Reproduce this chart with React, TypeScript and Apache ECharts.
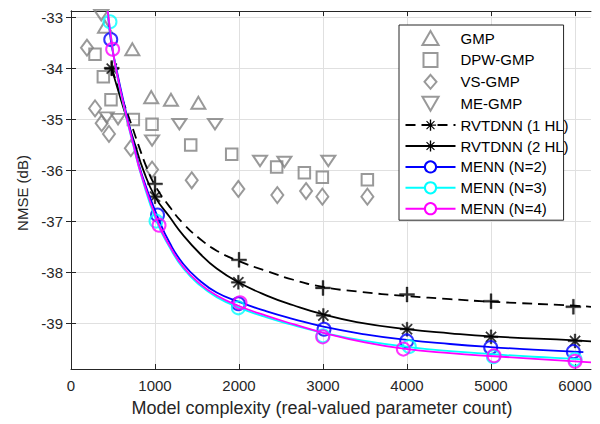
import React, { useEffect, useRef } from 'react';
import * as echarts from 'echarts';

// ---- data ----
const xTicks = [0, 1000, 2000, 3000, 4000, 5000, 6000];
const yTicks = [-39, -38, -37, -36, -35, -34, -33];

const gmp = [[405, -33.19], [730, -33.63], [955, -34.57], [1190, -34.62], [1516, -34.68]];
const dpwGmp = [[286, -33.73], [385, -34.17], [476, -34.62], [742, -35.01], [965, -35.1], [1425, -35.51], [1913, -35.69], [2448, -35.94], [2778, -36.05], [2992, -36.14], [3528, -36.19]];
const vsGmp = [[190, -33.6], [286, -34.79], [365, -35.08], [452, -35.29], [712, -35.57], [965, -35.99], [1437, -36.2], [1992, -36.37], [2456, -36.49], [2798, -36.41], [2992, -36.52], [3528, -36.52]];
const meGmp = [[360, -32.96], [425, -34.97], [560, -35.0], [965, -35.42], [1290, -35.1], [1714, -35.1], [2250, -35.82], [2540, -35.84], [3063, -35.82]];

const rvt1Curve = [[485, -34.01], [603, -34.57], [722, -35.12], [801, -35.5], [901, -35.95], [1000, -36.3], [1179, -36.73], [1337, -37.05], [1536, -37.35], [1734, -37.58], [1992, -37.78], [2330, -37.98], [2647, -38.15], [3000, -38.29], [3401, -38.38], [4000, -38.47], [4512, -38.53], [5000, -38.58], [6000, -38.66], [6190, -38.68]];
const rvt2Curve = [[485, -34.01], [600, -34.65], [762, -35.5], [861, -36.0], [1000, -36.52], [1179, -36.93], [1337, -37.28], [1536, -37.64], [1734, -37.93], [1992, -38.2], [2330, -38.46], [2647, -38.65], [3004, -38.83], [3401, -38.98], [4000, -39.12], [4512, -39.2], [5000, -39.26], [6000, -39.34], [6190, -39.36]];
const menn2Curve = [[437, -32.88], [473, -33.44], [536, -33.98], [643, -34.78], [742, -35.45], [842, -36.08], [1040, -36.95], [1179, -37.44], [1337, -37.84], [1536, -38.17], [1734, -38.4], [1992, -38.58], [2330, -38.77], [2647, -38.92], [3004, -39.07], [3500, -39.22], [3996, -39.33], [4512, -39.41], [4996, -39.47], [5500, -39.52], [5980, -39.56], [6099, -39.57]];
const menn3Curve = [[437, -32.88], [470, -33.3], [536, -34.04], [643, -34.85], [742, -35.52], [842, -36.14], [1012, -36.98], [1179, -37.53], [1337, -37.93], [1536, -38.26], [1734, -38.49], [1992, -38.69], [2330, -38.89], [2647, -39.04], [3004, -39.19], [3500, -39.35], [4027, -39.47], [4512, -39.55], [5028, -39.61], [5500, -39.66], [6000, -39.7], [6070, -39.71]];
const menn4Curve = [[437, -32.88], [496, -33.63], [536, -34.03], [643, -34.83], [742, -35.5], [842, -36.12], [1048, -37.08], [1179, -37.5], [1337, -37.9], [1536, -38.23], [1734, -38.46], [1992, -38.66], [2330, -38.86], [2647, -39.02], [3004, -39.19], [3500, -39.38], [3952, -39.5], [4512, -39.59], [5036, -39.65], [6000, -39.75], [6190, -39.77]];

const rvt1Marks = [[485, -34.0], [1000, -36.27], [2000, -37.76], [3000, -38.31], [4000, -38.44], [5000, -38.57], [5980, -38.68]];
const rvt2Marks = [[485, -34.01], [1000, -36.52], [1992, -38.2], [3004, -38.85], [4000, -39.12], [5000, -39.27], [6000, -39.35]];
const menn2Marks = [[473, -33.44], [1030, -36.88], [1992, -38.62], [3012, -39.12], [3996, -39.35], [4996, -39.48], [5980, -39.56]];
const menn3Marks = [[464, -33.09], [1012, -37.0], [1992, -38.7], [3000, -39.25], [4027, -39.46], [5028, -39.66], [6000, -39.71]];
const menn4Marks = [[496, -33.63], [1048, -37.08], [2012, -38.6], [2996, -39.27], [3956, -39.51], [5036, -39.64], [6000, -39.75]];

const legendNames = ['GMP', 'DPW-GMP', 'VS-GMP', 'ME-GMP', 'RVTDNN (1 HL)', 'RVTDNN (2 HL)', 'MENN (N=2)', 'MENN (N=3)', 'MENN (N=4)'];

// ---- styling ----
const FONT = '"Liberation Sans", Arial, Helvetica, sans-serif';
const AX = '#262626';
const GRAY = '#808080';
const TRI_UP = 'path://M5,0L10,8.66L0,8.66Z';
const TRI_DOWN = 'path://M0,0L10,0L5,8.66Z';
const SQUARE = 'path://M0,0L10,0L10,10L0,10Z';
const DIAMOND = 'path://M6,0L12,7L6,14L0,7Z';
const PLUS = 'path://M-1.3,-10L1.3,-10L1.3,-1.3L10,-1.3L10,1.3L1.3,1.3L1.3,10L-1.3,10L-1.3,1.3L-10,1.3L-10,-1.3L-1.3,-1.3Z';
const ASTER = 'path://M-1.2,-10L1.2,-10L1.2,-1.2L10,-1.2L10,1.2L1.2,1.2L1.2,10L-1.2,10L-1.2,1.2L-10,1.2L-10,-1.2L-1.2,-1.2Z' +
  'M-6.36,-7.78L7.78,6.36L6.36,7.78L-7.78,-6.36Z' +
  'M-7.78,6.36L6.36,-7.78L7.78,-6.36L-6.36,7.78Z';

const hollow = { color: 'rgba(0,0,0,0)', borderColor: GRAY, borderWidth: 2 };

function scatterSeries(name: string, data: number[][], symbol: string, size: any) {
  return {
    name, type: 'scatter', data, symbol, symbolSize: size, symbolKeepAspect: true,
    itemStyle: hollow, z: 2,
  };
}

function curveSeries(name: string, data: number[][], color: string, symbol: string, dashed = false, z = 3) {
  return {
    name, type: 'line', data, smooth: 0.5, showSymbol: false,
    symbol, symbolSize: 12,
    lineStyle: { color, width: 1.8, type: dashed ? [10, 6] : 'solid' },
    itemStyle: { color },
    z,
  };
}

function markSeries(name: string, data: number[][], color: string, symbol: string, size: number, hollowMark: boolean, z = 4) {
  return {
    name, type: 'scatter', data, symbol, symbolSize: size,
    itemStyle: hollowMark
      ? { color: 'rgba(0,0,0,0)', borderColor: color, borderWidth: 2 }
      : { color, borderColor: color, borderWidth: 0.4 },
    z,
  };
}

const fmt = (v: number) => String(v);

export default function App() {
  const ref = useRef<HTMLDivElement>(null);
  useEffect(() => {
    if (!ref.current) return;
    const chart = echarts.init(ref.current, undefined, { renderer: 'svg' });
    const xMin = 0, xMax = 6190, yMin = -39.9, yMax = -32.88;
    chart.setOption({
      animation: false,
      backgroundColor: '#fff',
      textStyle: { fontFamily: FONT },
      grid: { left: 71, right: 9, top: 11, bottom: 55, containLabel: false },
      xAxis: [
        {
          type: 'value', min: xMin, max: xMax, position: 'bottom',
          name: 'Model complexity (real-valued parameter count)', nameLocation: 'middle', nameGap: 30,
          nameTextStyle: { fontSize: 18, color: AX, fontFamily: FONT, padding: [0, 18, 0, 0] },
          axisLine: { show: true, lineStyle: { color: AX, width: 1 } },
          axisTick: { show: true, inside: true, length: 5, customValues: xTicks, lineStyle: { color: AX } },
          axisLabel: { customValues: xTicks, formatter: fmt, fontSize: 15, color: AX, margin: 9, fontFamily: FONT },
          splitLine: { show: true, lineStyle: { color: '#e0e0e0', width: 1 } },
        },
        {
          type: 'value', min: xMin, max: xMax, position: 'top',
          axisLine: { show: true, lineStyle: { color: AX, width: 1 } },
          axisTick: { show: true, inside: true, length: 5, customValues: xTicks, lineStyle: { color: AX } },
          axisLabel: { show: false },
          splitLine: { show: false },
        },
      ],
      yAxis: [
        {
          type: 'value', min: yMin, max: yMax, position: 'left',
          name: 'NMSE (dB)', nameLocation: 'middle', nameGap: 40,
          nameTextStyle: { fontSize: 15, color: AX, fontFamily: FONT, padding: [0, 6, 0, 0] },
          axisLine: { show: true, lineStyle: { color: AX, width: 1 } },
          axisTick: { show: true, inside: true, length: 5, customValues: yTicks, lineStyle: { color: AX } },
          axisLabel: { customValues: yTicks, formatter: fmt, fontSize: 15, color: AX, margin: 8, fontFamily: FONT },
          splitLine: { show: true, lineStyle: { color: '#e0e0e0', width: 1 } },
        },
        {
          type: 'value', min: yMin, max: yMax, position: 'right',
          axisLine: { show: true, lineStyle: { color: AX, width: 1 } },
          axisTick: { show: true, inside: true, length: 5, customValues: yTicks, lineStyle: { color: AX } },
          axisLabel: { show: false },
          splitLine: { show: false },
        },
      ],
      legend: {
        data: legendNames,
        orient: 'vertical', left: 399, top: 25,
        itemWidth: 50, itemHeight: 14, itemGap: 5.9,
        symbolKeepAspect: true,
        padding: [5, -5, 4, 5.5],
        borderColor: AX, borderWidth: 1, backgroundColor: '#fff',
        textStyle: { fontSize: 15, color: '#000', fontFamily: FONT },
        selectedMode: false,
      },
      series: [
        scatterSeries('GMP', gmp, TRI_UP, 14),
        scatterSeries('DPW-GMP', dpwGmp, SQUARE, 11.5),
        scatterSeries('VS-GMP', vsGmp, DIAMOND, [14, 16]),
        scatterSeries('ME-GMP', meGmp, TRI_DOWN, [14, 12]),
        curveSeries('RVTDNN (1 HL)', rvt1Curve, '#000', ASTER, true),
        markSeries('RVTDNN (1 HL)', rvt1Marks, '#000', PLUS, 15, false),
        curveSeries('RVTDNN (2 HL)', rvt2Curve, '#000', ASTER),
        markSeries('RVTDNN (2 HL)', rvt2Marks, '#000', ASTER, 14, false),
        curveSeries('MENN (N=2)', menn2Curve, '#0000ff', 'emptyCircle', false, 5),
        markSeries('MENN (N=2)', menn2Marks, '#0000ff', 'circle', 13, true, 6),
        curveSeries('MENN (N=3)', menn3Curve, '#00ffff', 'emptyCircle', false, 7),
        markSeries('MENN (N=3)', menn3Marks, '#00ffff', 'circle', 13, true, 8),
        curveSeries('MENN (N=4)', menn4Curve, '#ff00ff', 'emptyCircle', false, 9),
        markSeries('MENN (N=4)', menn4Marks, '#ff00ff', 'circle', 13, true, 10),
      ],
    });
    return () => chart.dispose();
  }, []);
  return <div ref={ref} style={{ width: 600, height: 424, position: 'fixed', left: 0, top: 0 }} />;
}
